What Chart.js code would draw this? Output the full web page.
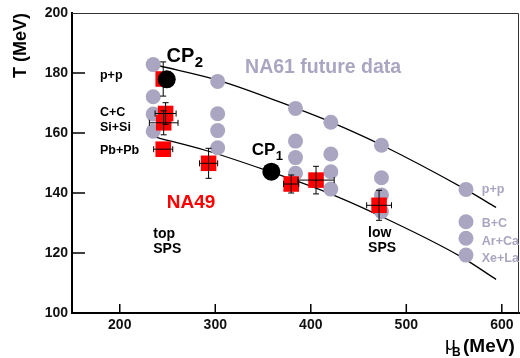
<!DOCTYPE html>
<html>
<head>
<meta charset="utf-8">
<script src="https://cdn.jsdelivr.net/npm/chart.js@4"></script>
<style>
  body { margin: 0; background: #fff; }
</style>
</head>
<body>
<canvas id="myChart" width="520" height="358"></canvas>
<script>
// NA61 future data (grey circles), columns by mu_B
const na61Mu = [235, 235, 235, 235, 302.5, 302.5, 302.5, 302.5, 384, 384, 384, 384,
                421, 421, 421, 421, 474, 474, 474, 474, 562.5, 562.5, 562.5, 562.5];
const na61T = [182.8, 172.1, 166.3, 160.6, 177.2, 166.4, 160.8, 155.1, 168.2, 157.3, 151.8, 146.6,
               163.6, 153.0, 147.1, 141.3, 155.9, 145.1, 139.3, 133.8, 141.2, 130.4, 124.9, 119.3];

// NA49 points (red squares) with errors
const na49Mu = [245.5, 248, 246, 245.5, 293, 379.5, 405.5, 471.5];
const na49T = [178.0, 166.5, 163.4, 154.6, 149.9, 143.0, 144.3, 135.9];
const na49ErrMu = [0, 11, 15, 10, 9.5, 8, 19, 13];
const na49ErrT = [5.7, 3.6, 4.0, 0, 5.0, 3.0, 4.6, 5.0];

// critical points
const cpMu = [249.2, 358.7];
const cpT = [177.9, 147.1];

// freeze-out curves
const upperMu = [240, 305, 385, 420, 474, 562, 594];
const upperT = [182.5, 177.4, 168.2, 163.8, 156.0, 141.2, 135.2];
const lowerMu = [236, 292, 352, 416, 467, 557, 594];
const lowerT = [158.7, 154.0, 147.7, 140.3, 133.2, 118.8, 111.2];

const xTicks = [200, 300, 400, 500, 600];
const yTicks = [100, 120, 140, 160, 180, 200];

const FONT = "'Liberation Sans', Arial, sans-serif";
const GREY = '#aaa6c2';

// text labels: [text, mu, T, size, colour, subscript]
const labels = [
  ['p+p', 179.3, 177.9, 12.5, '#000'],
  ['C+C', 179.3, 165.8, 12.5, '#000'],
  ['Si+Si', 179.3, 160.8, 12.5, '#000'],
  ['Pb+Pb', 179.3, 152.9, 12.5, '#000'],
  ['CP', 248.9, 183.8, 20, '#000', '2'],
  ['CP', 338.2, 152.6, 17, '#000', '1'],
  ['NA61 future data', 331.2, 180.1, 19.5, GREY],
  ['NA49', 249.2, 134.9, 19, '#ff0000'],
  ['top', 235.1, 125.0, 14, '#000'],
  ['SPS', 235.1, 120.1, 14, '#000'],
  ['low', 460.0, 125.3, 14, '#000'],
  ['SPS', 460.0, 120.4, 14, '#000'],
  ['p+p', 579, 139.9, 12.5, GREY],
  ['B+C', 579, 128.6, 12.5, GREY],
  ['Ar+Ca', 579, 122.7, 12.5, GREY],
  ['Xe+La', 579, 117.1, 12.5, GREY]
];

const pts = (xs, ys) => xs.map((v, i) => ({ x: v, y: ys[i] }));

const extras = {
  id: 'extras',
  afterLayout(chart) {
    // chart.js keeps a few px spare on the right, stretch the plot to the frame at x=519
    const a = chart.chartArea, x = chart.scales.x;
    a.right = 519;
    a.width = a.right - a.left;
    x.right = 519;
    x.width = x.right - x.left;
    if (x.configure) x.configure();
  },
  beforeDatasetsDraw(chart) {
    const { ctx, chartArea: a, scales: { x, y } } = chart;
    ctx.save();
    // thin top / right frame
    ctx.strokeStyle = '#333';
    ctx.lineWidth = 1;
    ctx.beginPath();
    ctx.moveTo(a.left, a.top + 0.5);
    ctx.lineTo(a.right - 0.5, a.top + 0.5);
    ctx.lineTo(a.right - 0.5, a.bottom);
    ctx.stroke();
    // inward ticks
    ctx.strokeStyle = '#000';
    ctx.lineWidth = 1.5;
    yTicks.slice(1, -1).forEach(v => {
      const py = y.getPixelForValue(v);
      ctx.beginPath(); ctx.moveTo(a.left, py); ctx.lineTo(a.left + 13, py); ctx.stroke();
    });
    xTicks.forEach(v => {
      const px = x.getPixelForValue(v);
      ctx.beginPath(); ctx.moveTo(px, a.bottom); ctx.lineTo(px, a.bottom - 9); ctx.stroke();
    });
    ctx.restore();
  },
  afterDatasetsDraw(chart) {
    const { ctx, scales: { x, y } } = chart;
    ctx.save();
    // error bars
    ctx.strokeStyle = '#000';
    ctx.lineWidth = 1;
    na49Mu.forEach((m, i) => {
      const px = x.getPixelForValue(m), py = y.getPixelForValue(na49T[i]);
      if (na49ErrMu[i]) {
        const x0 = x.getPixelForValue(m - na49ErrMu[i]), x1 = x.getPixelForValue(m + na49ErrMu[i]);
        ctx.beginPath();
        ctx.moveTo(x0, py); ctx.lineTo(x1, py);
        ctx.moveTo(x0, py - 3); ctx.lineTo(x0, py + 3);
        ctx.moveTo(x1, py - 3); ctx.lineTo(x1, py + 3);
        ctx.stroke();
      }
      if (na49ErrT[i]) {
        const y0 = y.getPixelForValue(na49T[i] - na49ErrT[i]), y1 = y.getPixelForValue(na49T[i] + na49ErrT[i]);
        ctx.beginPath();
        ctx.moveTo(px, y0); ctx.lineTo(px, y1);
        ctx.moveTo(px - 3, y0); ctx.lineTo(px + 3, y0);
        ctx.moveTo(px - 3, y1); ctx.lineTo(px + 3, y1);
        ctx.stroke();
      }
    });
    // text labels
    ctx.textBaseline = 'alphabetic';
    ctx.textAlign = 'left';
    labels.forEach(([txt, m, t, size, col, sub]) => {
      const px = x.getPixelForValue(m), py = y.getPixelForValue(t);
      ctx.fillStyle = col;
      ctx.font = 'bold ' + size + 'px ' + FONT;
      ctx.fillText(txt, px, py);
      if (sub) {
        const w = ctx.measureText(txt).width;
        ctx.font = 'bold ' + Math.round(size * 0.75) + 'px ' + FONT;
        ctx.fillText(sub, px + w + 0.5, py + 5);
      }
    });
    ctx.restore();
  },
  afterDraw(chart) {
    const { ctx } = chart;
    ctx.save();
    ctx.fillStyle = '#000';
    // y title
    ctx.translate(26, 13);
    ctx.rotate(-Math.PI / 2);
    ctx.font = 'bold 18px ' + FONT;
    ctx.textAlign = 'right';
    ctx.textBaseline = 'alphabetic';
    ctx.fillText('T (MeV)', 0, 0);
    ctx.restore();
    // x title
    ctx.save();
    ctx.fillStyle = '#000';
    ctx.textBaseline = 'alphabetic';
    ctx.textAlign = 'left';
    ctx.font = '19px ' + FONT;
    ctx.fillText('\u03bc', 445, 350);
    ctx.font = 'bold 12px ' + FONT;
    ctx.fillText('B', 452, 356);
    ctx.font = 'bold 19px ' + FONT;
    ctx.fillText('(MeV)', 463, 352);
    ctx.restore();
  }
};

const ctx = document.getElementById('myChart').getContext('2d');
const myChart = new Chart(ctx, {
  type: 'scatter',
  data: {
    datasets: [
      { label: 'CP', data: pts(cpMu, cpT), pointRadius: 9, backgroundColor: '#000', borderWidth: 0, order: 0 },
      { label: 'NA49', data: pts(na49Mu, na49T), pointStyle: 'rect', pointRadius: 11,
        backgroundColor: '#ff0000', borderWidth: 0, order: 1 },
      { label: 'NA61', data: pts(na61Mu, na61T), pointRadius: 7.5, backgroundColor: GREY, borderWidth: 0, order: 2 },
      { label: 'upper', data: pts(upperMu, upperT), showLine: true, borderColor: '#000', borderWidth: 1.3,
        pointRadius: 0, cubicInterpolationMode: 'monotone', order: 3 },
      { label: 'lower', data: pts(lowerMu, lowerT), showLine: true, borderColor: '#000', borderWidth: 1.3,
        pointRadius: 0, cubicInterpolationMode: 'monotone', order: 3 }
    ]
  },
  options: {
    responsive: false,
    devicePixelRatio: 1,
    animation: false,
    layout: { padding: { top: 13, right: 1, left: 0, bottom: 0 } },
    plugins: { legend: { display: false }, tooltip: { enabled: false } },
    events: [],
    scales: {
      x: {
        type: 'linear', min: 150, max: 618,
        afterBuildTicks: s => { s.ticks = xTicks.map(v => ({ value: v })); },
        afterFit: s => { s.height = 45; s.paddingLeft = 0; s.paddingRight = 0; },
        grid: { display: false, drawTicks: false },
        border: { display: true, color: '#000', width: 2 },
        ticks: { padding: 4, color: '#111', font: { family: FONT, size: 14, weight: 'bold' } }
      },
      y: {
        type: 'linear', min: 100, max: 200,
        afterBuildTicks: s => { s.ticks = yTicks.map(v => ({ value: v })); },
        afterFit: s => { s.width = 72; s.paddingTop = 0; s.paddingBottom = 0; },
        grid: { display: false, drawTicks: false },
        border: { display: true, color: '#000', width: 2 },
        ticks: { padding: 4, color: '#111', font: { family: FONT, size: 14, weight: 'bold' } }
      }
    }
  },
  plugins: [extras]
});
</script>
</body>
</html>
